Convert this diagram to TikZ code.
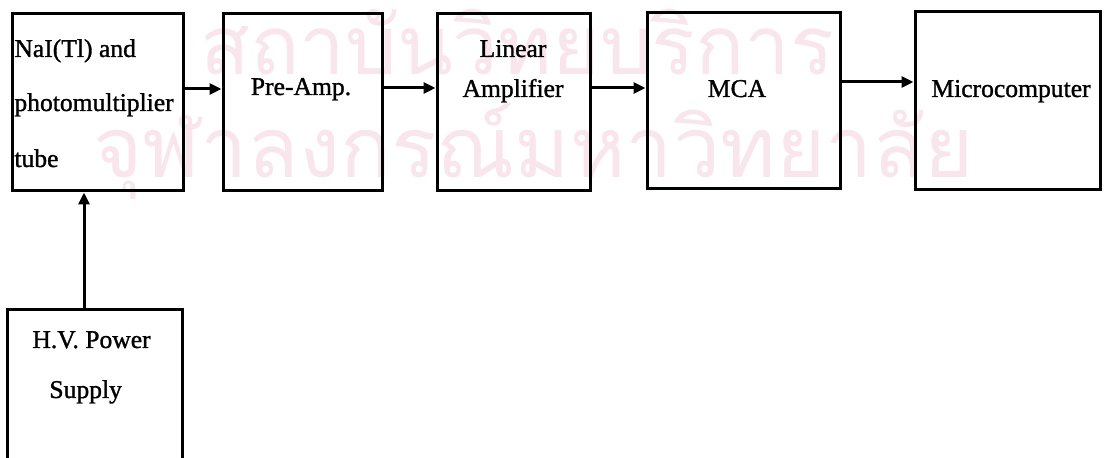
\documentclass[tikz,border=0pt]{standalone}
\usepackage{fontspec}
\setmainfont{Liberation Serif}[FakeBold=1.2]
\newfontfamily\thaifont[Script=Thai]{Loma}
\usetikzlibrary{arrows.meta}
\definecolor{wmark}{RGB}{249,230,236}
\tikzset{
  blk/.style={draw, line width=1.5pt, inner sep=0pt},
  lbl/.style={inner sep=0pt, font=\fontsize{12.8}{15}\selectfont},
  arr/.style={line width=1.5pt, -{Triangle[length=6pt,width=5.5pt]}},
  wm/.style={inner sep=0pt, text=wmark, anchor=base west}
}
\begin{document}
\begin{tikzpicture}[x=0.5pt,y=-0.5pt]
\clip (0,0) rectangle (1110,458);
\fill[white] (0,0) rectangle (1110,458);
% watermark
\node[wm] (wm1) at (200,75) {\resizebox{317pt}{!}{\thaifont สถาบันวิทยบริการ}};
\node[wm] (wm2) at (93,178) {\resizebox{440pt}{!}{\thaifont จุฬาลงกรณ์มหาวิทยาลัย}};
% boxes
\node[blk, minimum width=85.5pt, minimum height=88.5pt] (b1) at (97.5,102.5) {};
\node[blk, minimum width=79.5pt, minimum height=88.5pt] (b2) at (302.5,102.5) {};
\node[blk, minimum width=76.5pt, minimum height=88.5pt] (b3) at (513.5,102.5) {};
\node[blk, minimum width=96.5pt, minimum height=88pt] (b4) at (743.5,101) {};
\node[blk, minimum width=92.5pt, minimum height=89pt] (b5) at (1007.5,101) {};
\node[blk, minimum width=87.5pt, minimum height=85pt] (hv) at (94.5,395) {};
% labels
\node[lbl, anchor=base west] (t1a) at (14,57) {NaI(Tl) and};
\node[lbl, anchor=base west] (t1b) at (14,111) {photomultiplier};
\node[lbl, anchor=base west] (t1c) at (14,167) {tube};
\node[lbl, anchor=base] (t2) at (301,95) {Pre-Amp.};
\node[lbl, anchor=base] (t3a) at (513,57) {Linear};
\node[lbl, anchor=base] (t3b) at (513,97) {Amplifier};
\node[lbl, anchor=base] (t4) at (737,97) {MCA};
\node[lbl, anchor=base] (t5) at (1011,97) {Microcomputer};
\node[lbl, anchor=base west] (th1) at (32,348) {H.V. Power};
\node[lbl, anchor=base west] (th2) at (49,398) {Supply};
% connectors
\coordinate (ya) at (0,89);
\coordinate (yb) at (0,88);
\coordinate (yc) at (0,82);
\coordinate (xh) at (84,0);
\draw[arr] (b1.east |- ya) -- (b2.west |- ya);
\draw[arr] (b2.east |- yb) -- (b3.west |- yb);
\draw[arr] (b3.east |- yb) -- (b4.west |- yb);
\draw[arr] (b4.east |- yc) -- (b5.west |- yc);
\draw[arr] (xh |- hv.north) -- (xh |- b1.south);
\end{tikzpicture}
\end{document}
